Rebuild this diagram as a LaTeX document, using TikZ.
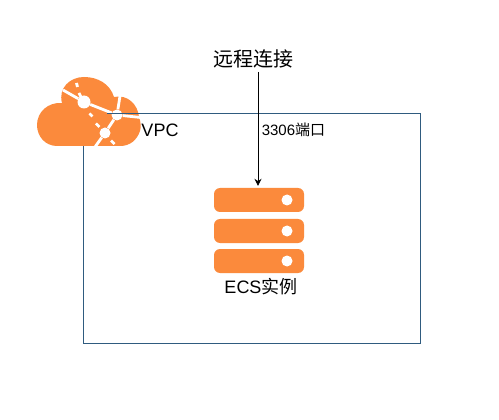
\documentclass[tikz,border=0pt]{standalone}
\usepackage{fontspec}
\usetikzlibrary{arrows.meta}
\setmainfont{Liberation Sans}
\newfontfamily\cjk{Noto Sans CJK SC}
\definecolor{cloudfill}{HTML}{FB8A3C}
\definecolor{vpcline}{HTML}{2F5B7F}
\begin{document}
\begin{tikzpicture}[x=1pt,y=-1pt]
        \tikzstyle{vpcbox}=[draw=vpcline,line width=0.8pt]
        \tikzstyle{bar}=[rectangle,fill=cloudfill,rounded corners=6pt,minimum width=90pt,minimum height=24pt,inner sep=0pt]
        \tikzstyle{led}=[circle,fill=white,minimum size=11pt,inner sep=0pt]
        \tikzstyle{net}=[draw=white,line width=2.8pt]
        \tikzstyle{hub}=[circle,fill=white,inner sep=0pt]
        \tikzstyle{tick}=[draw=white,line width=2.8pt]
        \tikzstyle{label}=[inner sep=0pt,text=black]
        \useasboundingbox (0,0) rectangle (499,420);
        \fill[white] (0,0) rectangle (499,420);
        \draw[vpcbox] (83,113) rectangle (420,343);
       \begin{scope}
         % cloud
         \fill[cloudfill] (57,146) .. controls (45,146) and (37,136) .. (37,125)
            .. controls (37,112) and (48,102) .. (62,103)
            .. controls (58,88) and (70,77) .. (84,77)
            .. controls (98,77) and (110,84) .. (114,97)
            .. controls (128,94) and (138,105) .. (139,117)
            .. controls (141,122) and (141,128) .. (140,131)
            .. controls (137,140) and (130,146) .. (120,146) -- cycle;
         \coordinate (n1) at (63,90);
         \coordinate (n4) at (120,96);
         \coordinate (n5) at (141,117.5);
         \coordinate (n6) at (95,147);
         \node [hub,minimum size=13pt] (h1) at (84,102) {};
         \node [hub,minimum size=11pt] (h2) at (117,115) {};
         \node [hub,minimum size=11pt] (h3) at (105,133) {};
         \path[net] (n1) -- (h1) -- (h2) -- (n4);
         \path[net] (h2) -- (n5);
         \path[net] (h2) -- (h3) -- (n6);
         \path[tick] (76.5,83) -- (77.5,87);
         \path[tick] (79,93) -- (81,97);
         \path[tick] (89.5,113.5) -- (92.5,116.5);
         \path[tick] (96,123.5) -- (99.5,127);
         \path[tick] (111,140.5) -- (114.5,144);
         % top edge of the box shows over the cloud
         \draw[vpcbox] (107,113) -- (141,113);
       \end{scope}
       \begin{scope}
         \node [bar] (s1) at (259,200) {};
         \node [bar] (s2) at (259,231) {};
         \node [bar] (s3) at (259,261) {};
         \node [led] (l1) at (287,200) {};
         \node [led] (l2) at (287,231) {};
         \node [led] (l3) at (287,261) {};
       \end{scope}
       \node [label,font=\fontsize{18}{18}\selectfont,anchor=center] (ecs) at (261,287) {ECS{\cjk 实例}};
       \node [label,font=\fontsize{18}{18}\selectfont,anchor=center] (vpc) at (160,130) {VPC};
       \node [label,font=\fontsize{20}{20}\cjk,anchor=center] (remote) at (253,59) {远程连接};
       \node [label,font=\fontsize{15}{15}\selectfont,anchor=center] (port) at (293.5,130) {3306{\cjk 端口}};
       \coordinate (start) at (258,72);
       \draw[-{Stealth[length=7pt,width=7pt]},black,line width=0.8pt,shorten >=2pt] (start) -- (start |- s1.north);
\end{tikzpicture}
\end{document}
